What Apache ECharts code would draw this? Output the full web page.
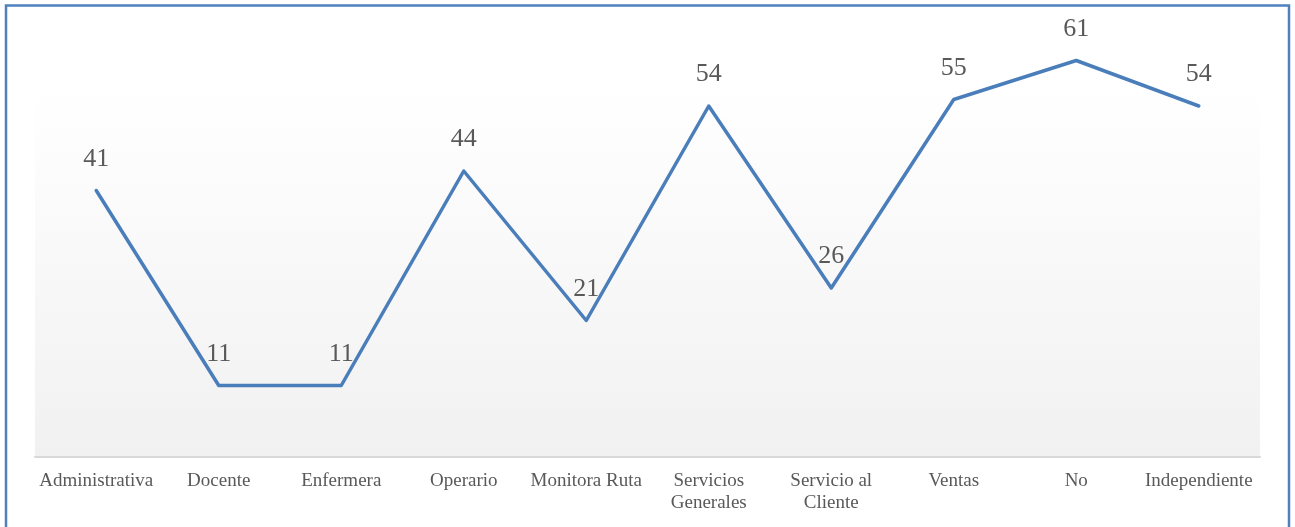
<!DOCTYPE html>
<html>
<head>
<meta charset="utf-8">
<script src="https://cdn.jsdelivr.net/npm/echarts@6/dist/echarts.min.js"></script>
<style>
  html, body { margin: 0; padding: 0; background: #ffffff; }
  #chart { width: 1295px; height: 527px; }
</style>
</head>
<body>
<div id="chart"></div>
<script>
// Occupation categories and their counts
const categories = [
  'Administrativa', 'Docente', 'Enfermera', 'Operario', 'Monitora Ruta',
  'Servicios\nGenerales', 'Servicio al\nCliente', 'Ventas', 'No', 'Independiente'
];
const counts = [41, 11, 11, 44, 21, 54, 26, 55, 61, 54];

const textColor = '#595959';
const serif = '"Liberation Serif", "Times New Roman", serif';

const chart = echarts.init(document.getElementById('chart'), null, { renderer: 'canvas' });

chart.setOption({
  animation: false,
  backgroundColor: '#ffffff',
  graphic: [
    {
      // soft white-to-grey plot background
      type: 'rect',
      z: -10,
      silent: true,
      shape: { x: 35, y: 88, width: 1225, height: 369 },
      style: {
        fill: new echarts.graphic.LinearGradient(0, 0, 0, 1, [
          { offset: 0, color: '#ffffff' },
          { offset: 1, color: '#f1f1f1' }
        ])
      }
    },
    {
      // outer frame
      type: 'rect',
      z: 100,
      silent: true,
      shape: { x: 6, y: 5.5, width: 1283, height: 600 },
      style: { fill: 'none', stroke: '#4f81bd', lineWidth: 2.5 }
    }
  ],
  grid: { left: 35, right: 35, top: 2, bottom: 70, containLabel: false },
  xAxis: {
    type: 'category',
    data: categories,
    boundaryGap: true,
    axisLine: { show: true, lineStyle: { color: '#d9d9d9', width: 2 } },
    axisTick: { show: false },
    axisLabel: {
      interval: 0,
      color: textColor,
      fontFamily: serif,
      fontSize: 19,
      lineHeight: 22,
      margin: 13
    }
  },
  yAxis: {
    type: 'value',
    min: 0,
    max: 70,
    show: false,
    splitLine: { show: false }
  },
  series: [{
    type: 'line',
    data: counts,
    symbol: 'circle',
    symbolSize: 1,
    showSymbol: true,
    itemStyle: { color: 'rgba(74,126,187,0)' },
    clip: false,
    lineStyle: { color: '#4a7ebb', width: 3.5, join: 'round', cap: 'round' },
    label: {
      show: true,
      position: 'top',
      distance: 18,
      color: textColor,
      fontFamily: serif,
      fontSize: 26
    }
  }]
});
</script>
</body>
</html>
